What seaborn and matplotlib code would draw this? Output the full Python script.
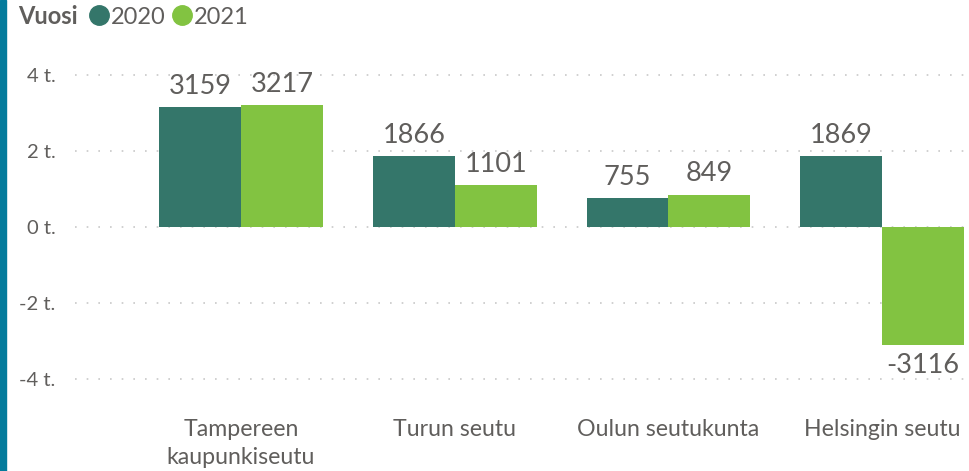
import pandas as pd
import matplotlib.pyplot as plt
import seaborn as sns
from matplotlib.lines import Line2D
from matplotlib.ticker import FuncFormatter

# Data
alueet = ['Tampereen\nkaupunkiseutu', 'Turun seutu', 'Oulun seutukunta', 'Helsingin seutu']
vuodet = ['2020', '2021']
arvot_2020 = [3159, 1866, 755, 1869]
arvot_2021 = [3217, 1101, 849, -3116]

df = pd.DataFrame({
    'Alue': alueet * 2,
    'Vuosi': [vuodet[0]] * 4 + [vuodet[1]] * 4,
    'Arvo': arvot_2020 + arvot_2021,
})

sns.set_style('white')
plt.rcParams['font.family'] = ['Lato', 'DejaVu Sans']
teksti = '#605e5c'
varit = {'2020': '#34766a', '2021': '#82c341'}

fig = plt.figure(figsize=(9.69, 4.71), dpi=100)
ax = fig.add_axes([75 / 969, 81 / 471, 894 / 969, 330 / 471])

sns.barplot(data=df, x='Alue', y='Arvo', hue='Vuosi', palette=varit,
            width=0.766, saturation=1, legend=False, linewidth=0, ax=ax)

for c in ax.containers:
    ax.bar_label(c, fmt='%d', padding=6, fontsize=19.5, color=teksti)

ax.set_xlim(-0.777, 3.407)
ax.set_ylim(-4300, 4400)
ax.set_yticks([-4000, -2000, 0, 2000, 4000])
ax.yaxis.set_major_formatter(FuncFormatter(lambda v, p: f'{v / 1000:.0f} t.'))
ax.grid(axis='y', color='#c8c8c8', linestyle=(0, (1, 6)), linewidth=1.2)
ax.set_axisbelow(True)
sns.despine(ax=ax, left=True, bottom=True)
ax.tick_params(axis='y', length=0, pad=14, labelsize=14.5, labelcolor=teksti)
ax.tick_params(axis='x', length=0, pad=21, labelsize=16.7, labelcolor=teksti)
for t in ax.get_xticklabels():
    t.set_linespacing(1.4)
ax.set_xlabel('')
ax.set_ylabel('')

# Legenda
fig.text(18 / 969, 1 - 17 / 471, 'Vuosi', fontsize=17, fontweight='bold',
         color=teksti, va='center')
kahvat = [Line2D([], [], marker='o', linestyle='', markersize=14,
                 color=varit[v]) for v in vuodet]
fig.legend(kahvat, vuodet, loc='center left', bbox_to_anchor=(75 / 969, 1 - 17 / 471),
           ncol=2, frameon=False, fontsize=17, labelcolor=teksti,
           handletextpad=0.0, columnspacing=0.2, borderpad=0, handlelength=1.0)

# Sininen reunapalkki
fig.patches.append(plt.Rectangle((0, 0), 6 / 969, 1, transform=fig.transFigure,
                                 color='#037b9c', zorder=5))

plt.savefig('out.png', dpi=100)
